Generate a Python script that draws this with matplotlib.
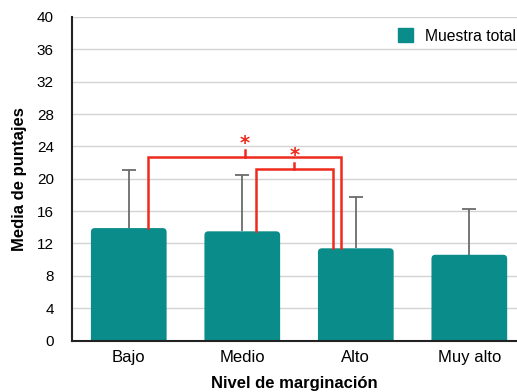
import matplotlib
matplotlib.use("Agg")
import matplotlib.pyplot as plt
from matplotlib.patches import FancyBboxPatch

plt.rcParams['font.family'] = ['Liberation Sans', 'DejaVu Sans']

categories = ["Bajo", "Medio", "Alto", "Muy alto"]
means = [13.9, 13.5, 11.4, 10.6]
upper_err = [7.2, 7.0, 6.3, 5.7]
yticks = [0, 4, 8, 12, 16, 20, 24, 28, 32, 36, 40]

# significance brackets: (left bar, right bar, bracket level)
brackets = [
    (0, 2, 22.7),
    (1, 2, 21.2),
]
bracket_offsets = [(0.171, -0.13), (0.121, -0.205)]

teal = "#098c8a"
red = "#ee2a1c"

fig = plt.figure(figsize=(5.17, 3.92), dpi=100)
ax = fig.add_axes([72 / 517, 1 - 340.5 / 392, (517 - 72) / 517, 323.5 / 392])

x = list(range(len(categories)))
bars = ax.bar(x, means, width=0.667, color=teal, label="Muestra total", zorder=2)

# replace plain rectangles with rounded-top boxes
px_per_x = 445 / 3.92
px_per_y = 323.5 / 40
for b in bars:
    b.set_visible(False)
    rx, w, h = b.get_x(), b.get_width(), b.get_height()
    patch = FancyBboxPatch((rx, -1.0), w, h + 1.0,
                           boxstyle="round,pad=0,rounding_size=0.035",
                           mutation_aspect=px_per_x / px_per_y,
                           facecolor=teal, edgecolor="none", zorder=2, clip_on=True)
    ax.add_patch(patch)

# upward-only error bars
eb = ax.errorbar(x, means, yerr=[[0] * len(means), upper_err], fmt="none",
                 ecolor="#6b6b6b", elinewidth=1.3, capsize=5, capthick=1.3, zorder=3)
for cap in eb[1]:
    ys = list(cap.get_ydata())
    if all(abs(a - b) < 1e-9 for a, b in zip(ys, means)):
        cap.set_visible(False)

for (i, j, level), (oi, oj) in zip(brackets, bracket_offsets):
    xl, xr = i + oi, j + oj
    ax.plot([xl, xl, xr, xr], [means[i], level, level, means[j]],
            color=red, lw=1.8, solid_joinstyle="miter", zorder=4)
    xm = (xl + xr) / 2
    ax.plot([xm, xm], [level, level + 0.8], color=red, lw=1.8, zorder=4)
    ax.text(xm, level + 0.5, "*", color=red, fontsize=14, fontweight="bold",
            family="DejaVu Sans", ha="center", va="bottom", zorder=4)

ax.set_xlim(-0.5, 3.42)
ax.set_ylim(0, 40)
ax.set_yticks(yticks)
ax.set_xticks(x)
ax.set_xticklabels(categories, fontsize=12)
ax.tick_params(axis="y", labelsize=11, length=0, pad=13)
ax.tick_params(axis="x", length=0, pad=7)
ax.yaxis.grid(True, color="#d3d3d3", lw=1)
ax.set_axisbelow(True)
for s in ["top", "right"]:
    ax.spines[s].set_visible(False)
for s in ["left", "bottom"]:
    ax.spines[s].set_linewidth(1.5)
    ax.spines[s].set_color("#222222")

ax.set_ylabel("Media de puntajes", fontsize=12, fontweight="bold", labelpad=7)
ax.set_xlabel("Nivel de marginación", fontsize=12, fontweight="bold", labelpad=8)

handle = plt.Rectangle((0, 0), 1, 1, color=teal)
ax.legend([handle], ["Muestra total"], loc="upper right", frameon=False,
          fontsize=11.3, handlelength=0.95, handleheight=1.0, handletextpad=0.75,
          bbox_to_anchor=(1.012, 0.985), borderaxespad=0.0)

fig.savefig("out.png", dpi=100)
